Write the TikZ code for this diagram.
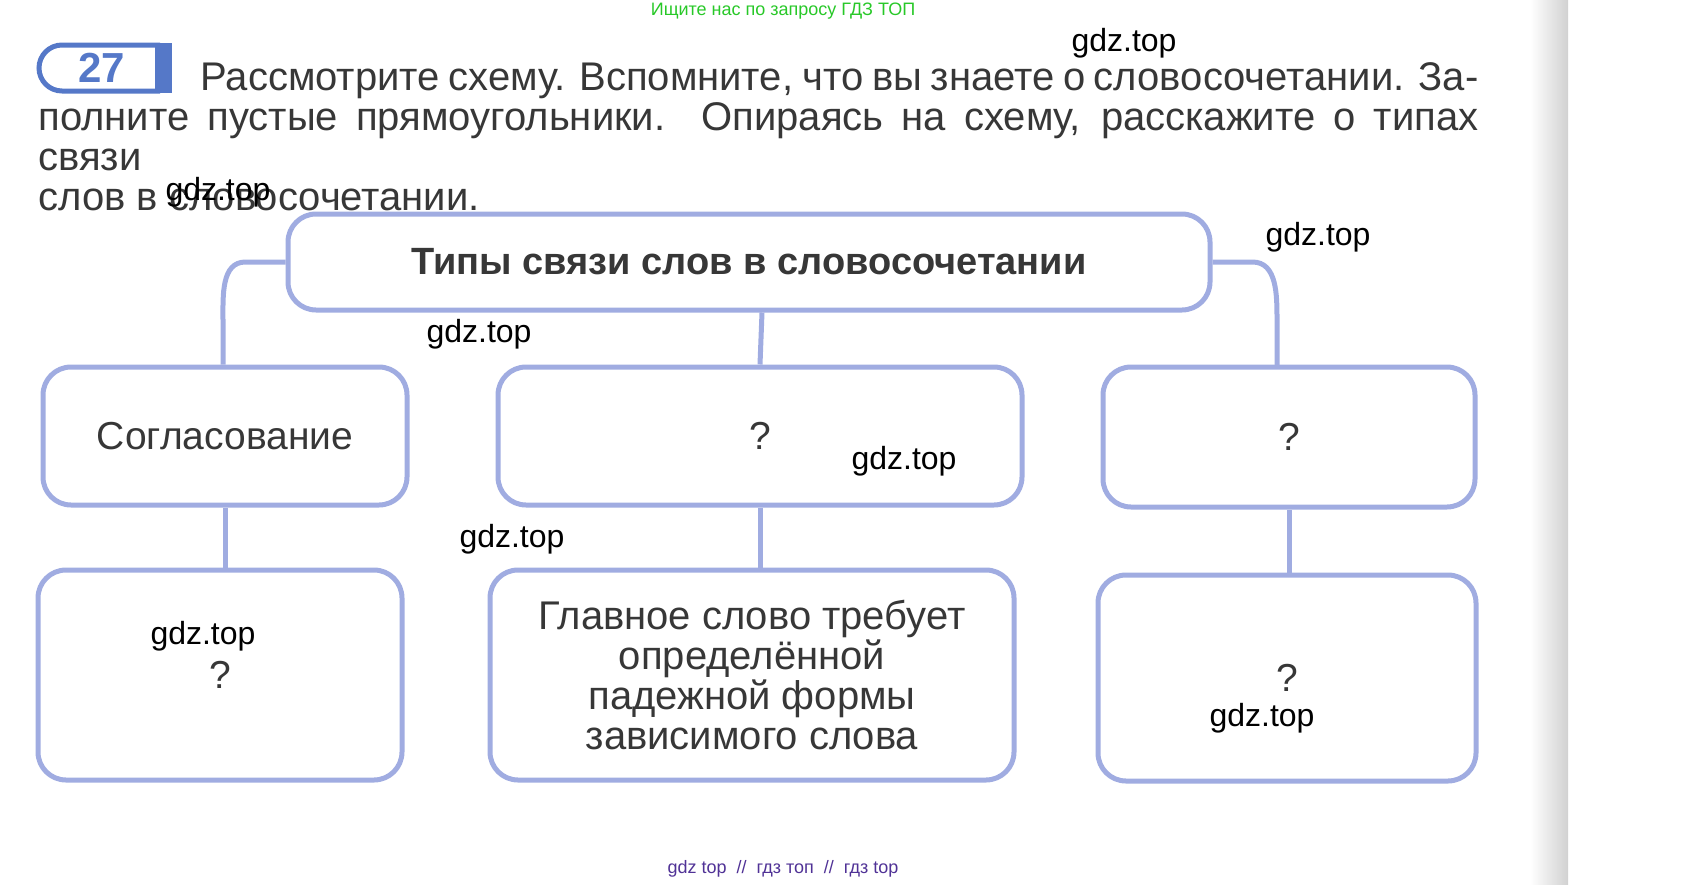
\documentclass[tikz,border=0pt]{standalone}
\usepackage{fontspec}
\setmainfont{Liberation Sans}
\usetikzlibrary{positioning}
\definecolor{frameblue}{RGB}{160,172,225}
\definecolor{badgeblue}{RGB}{85,120,200}
\definecolor{inkgrey}{RGB}{55,55,55}
\definecolor{headgreen}{RGB}{40,200,40}
\definecolor{footpurple}{RGB}{80,50,150}
\tikzset{
  typebox/.style={draw=frameblue, line width=2.5pt, rounded corners=14pt, text=inkgrey,
    font=\fontsize{19.5}{20}\selectfont, align=center},
  link/.style={draw=frameblue, line width=2.5pt},
  wmark/.style={font=\fontsize{16}{18}\selectfont, text=black}
}
\begin{document}
\begin{tikzpicture}[x=0.5pt,y=-0.5pt]
  \useasboundingbox (0,0) rectangle (1682,884);
  % page edge
  \shade[left color=white, right color=black!18] (1530,0) rectangle (1568,884);

  % header and footer
  \node[text=headgreen, font=\fontsize{9}{10}\selectfont] (head) at (783,11) {Ищите нас по запросу ГДЗ ТОП};
  \node[text=footpurple, font=\fontsize{9}{10}\selectfont] (foot) at (783,869) {gdz top \ // \ гдз топ \ // \ гдз top};

  % task number
  \draw[badgeblue, line width=2.5pt] (160,45) -- (62,45) arc (270:90:23) -- (160,91);
  \fill[badgeblue] (155,43) rectangle (172,93);
  \node[text=badgeblue, font=\bfseries\fontsize{21}{24}\selectfont] (num) at (102,68) {27};

  % task text
  \node[anchor=north west, inner sep=0pt, text width=720pt, align=justify, text=inkgrey,
    font=\fontsize{20}{20}\selectfont] (task) at (38,62)
    {\hspace*{81pt}Рассмотрите схему. Вспомните, что вы знаете о словосочетании. За-\linebreak полните пустые прямоугольники. Опираясь на схему, расскажите о типах связи\linebreak слов в словосочетании.};

  % boxes
  \node[typebox, minimum width=461pt, minimum height=48pt, font=\bfseries\fontsize{19}{20}\selectfont] (kinds) at (749,262) {Типы связи слов в словосочетании};
  \node[typebox, minimum width=182pt, minimum height=69pt] (agree) at (225,436) {Согласование};
  \node[typebox, minimum width=262pt, minimum height=69pt] (govq) at (760,436) {?};
  \node[typebox, minimum width=186pt, minimum height=70pt] (adjq) at (1289,437) {?};
  \node[typebox, minimum width=182pt, minimum height=105pt] (agreeq) at (220,675) {?};
  \node[typebox, minimum width=262pt, minimum height=105pt, font=\fontsize{20}{20}\selectfont] (govdef) at (752,675)
    {Главное слово требует\\определённой\\падежной формы\\зависимого слова};
  \node[typebox, minimum width=189pt, minimum height=103pt] (adjdef) at (1287,678) {?};

  % connectors
  \draw[link] (kinds.west) -- ++(-40,0) to[out=180,in=90] (223,320) -- (agree.north -| 223,367);
  \draw[link] (kinds.east) -- ++(40,0) to[out=0,in=90] (1277,320) -- (1277,367);
  \draw[link] (kinds.south) ++(13,0) -- (govq.north);
  \draw[link] (agree.south) -- (agreeq.north -| agree.south);
  \draw[link] (govq.south) -- (govdef.north -| govq.south);
  \draw[link] (adjq.south) -- (adjdef.north -| adjq.south);

  % marks
  \node[wmark] (m1) at (1124,43) {gdz.top};
  \node[wmark] (m2) at (218,192) {gdz.top};
  \node[wmark] (m3) at (1318,237) {gdz.top};
  \node[wmark] (m4) at (479,334) {gdz.top};
  \node[wmark] (m5) at (904,461) {gdz.top};
  \node[wmark] (m6) at (512,539) {gdz.top};
  \node[wmark] (m7) at (203,636) {gdz.top};
  \node[wmark] (m8) at (1262,718) {gdz.top};
\end{tikzpicture}
\end{document}
